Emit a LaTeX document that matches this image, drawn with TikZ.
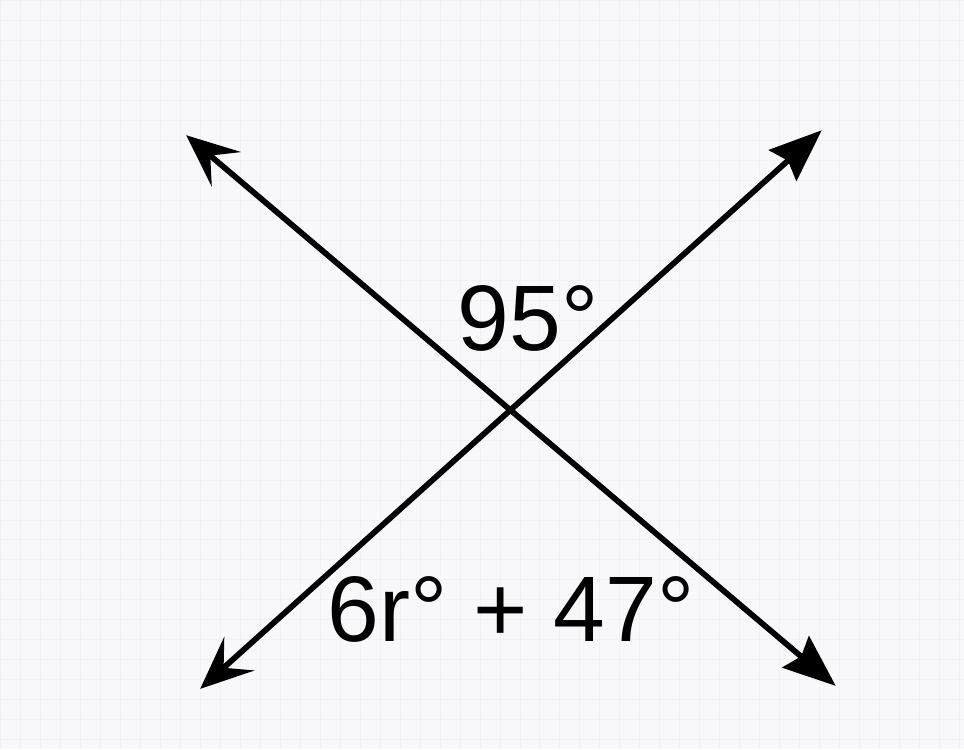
\documentclass[tikz,border=0pt]{standalone}
\usepackage{fontspec}
\setmainfont{Liberation Sans}
\usetikzlibrary{arrows.meta}

\definecolor{paper}{RGB}{248,248,250}
\definecolor{gridline}{RGB}{241,241,244}

\tikzset{
  ray/.style = {line width=0.115cm},
  angletext/.style = {font=\fontsize{53}{64}\selectfont},
  opentip/.tip = {Stealth[length=1.05cm, width=0.9cm, inset=0.42cm]},
  blocktip/.tip = {Stealth[length=1.05cm, width=0.82cm, inset=0.14cm]}
}

\begin{document}
\begin{tikzpicture}[x=0.02cm, y=-0.02cm]

% paper
\fill [paper] (0,0) rectangle (964,749);
\draw [gridline, step=0.4cm] (0,0) grid (964,749);
\useasboundingbox (0,0) rectangle (964,749);

\coordinate (nw) at (186,135);
\coordinate (se) at (836,686);
\coordinate (sw) at (200,689);
\coordinate (ne) at (822,130);

\draw [ray, opentip-blocktip] (nw) -- (se);
\draw [ray, opentip-blocktip] (sw) -- (ne);

\node [angletext] (upper) at (528,318) {95°};
\node [angletext] (lower) at (511,610) {6r° + 47°};

\end{tikzpicture}
\end{document}
